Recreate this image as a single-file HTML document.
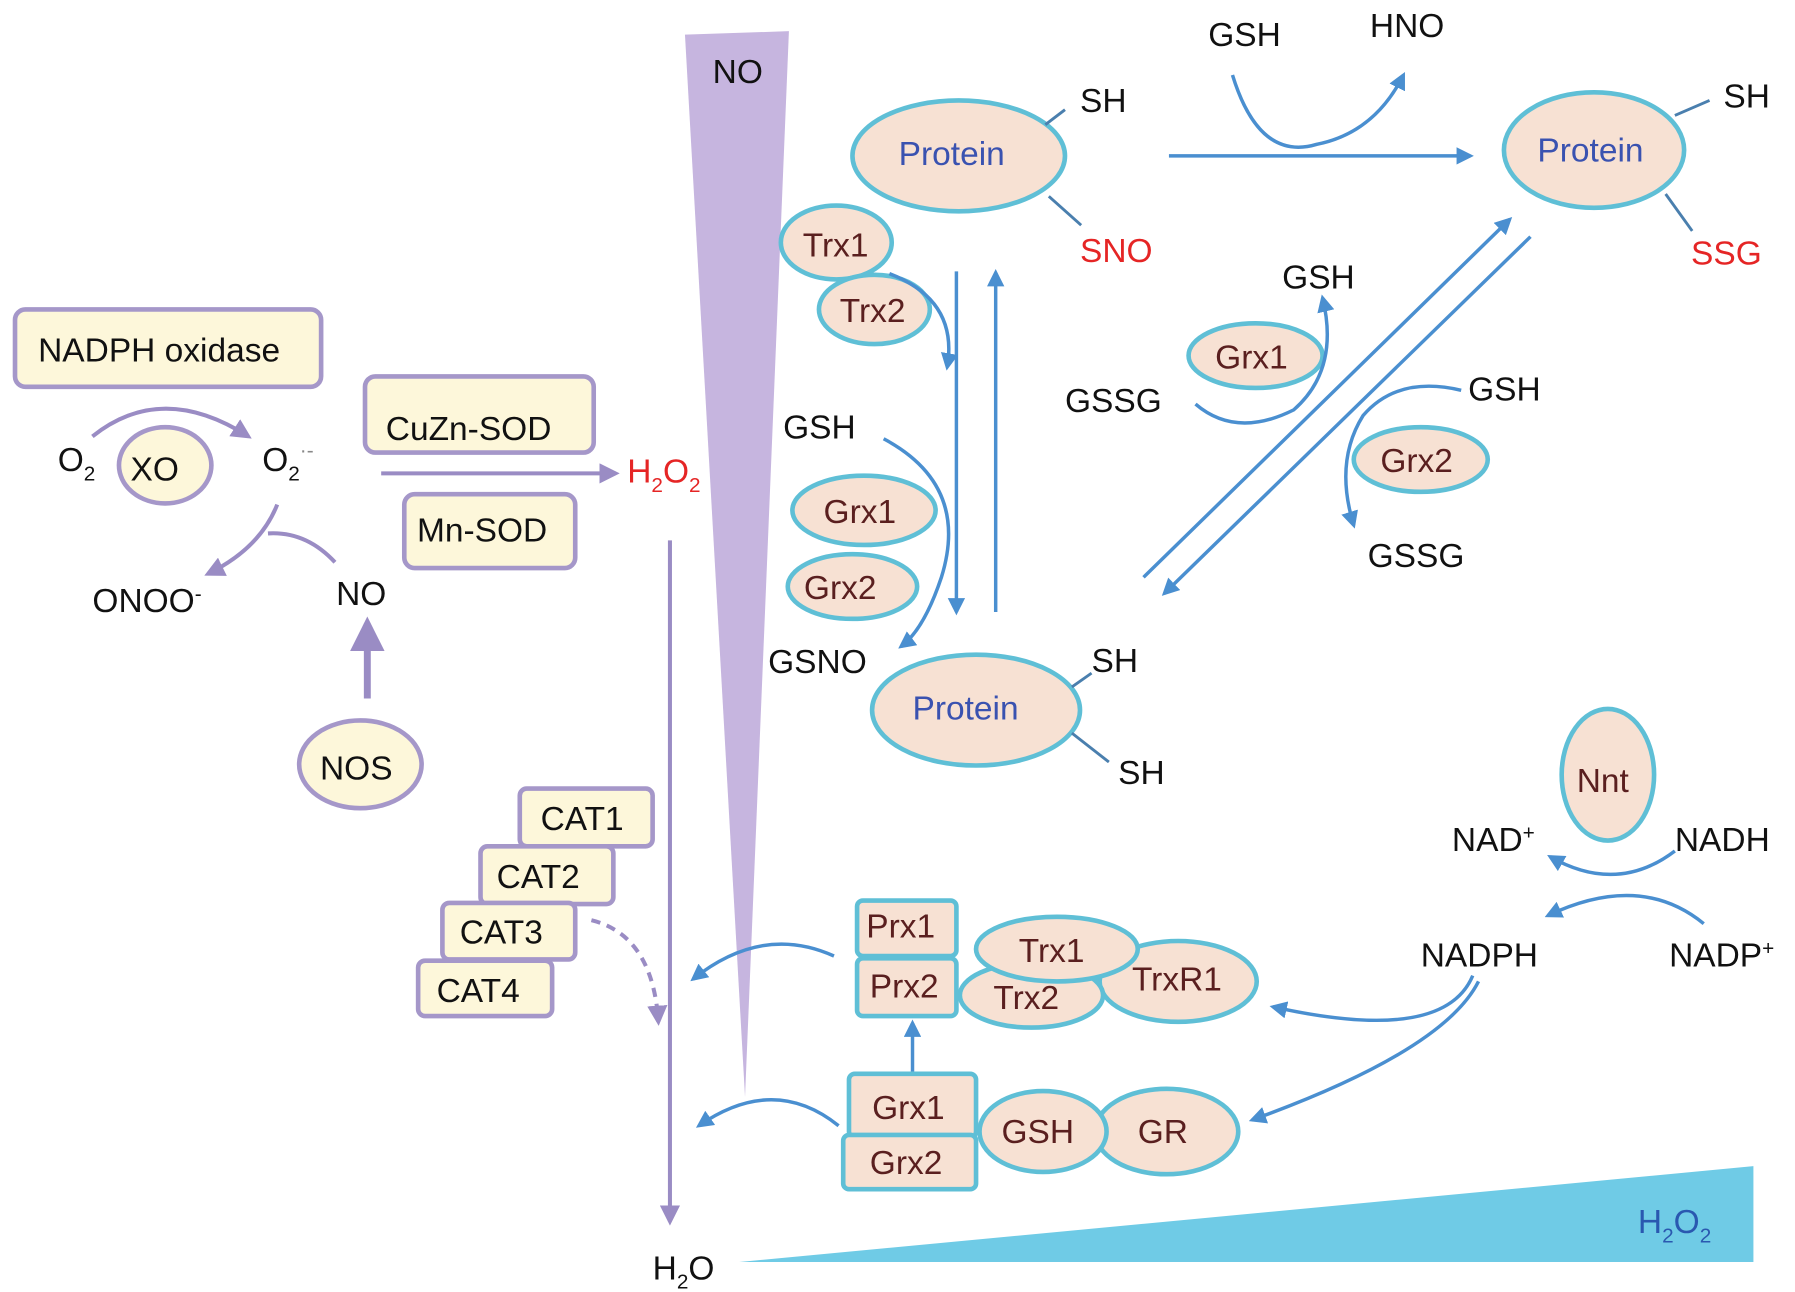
<!DOCTYPE html>
<html><head><meta charset="utf-8"><style>
html,body{margin:0;padding:0;background:#fff;}
svg{display:block;}
text{font-family:"Liberation Sans",sans-serif;}
</style></head><body>
<svg width="1795" height="1292" viewBox="0 0 1554 1119" preserveAspectRatio="none" xmlns="http://www.w3.org/2000/svg">
<defs>
<marker id="ap" viewBox="0 0 10 10" refX="8" refY="5" markerWidth="5" markerHeight="5" orient="auto"><path d="M0,0 L10,5 L0,10 z" fill="#9a8cc4"/></marker>
<marker id="ab" viewBox="0 0 10 10" refX="8" refY="5" markerWidth="5" markerHeight="5" orient="auto"><path d="M0,0 L10,5 L0,10 z" fill="#4a8fd0"/></marker>
</defs>
<g font-size="29" fill="#111">
<polygon points="593,30 683,27 645,950" fill="#c6b5df"/>
<text x="617" y="72">NO</text>
<polygon points="640,1093 1518,1010 1518,1093" fill="#6fcbe6"/>
<text x="1418" y="1068" fill="#2a58b0">H<tspan font-size="18" dy="8">2</tspan><tspan dy="-8">O</tspan><tspan font-size="18" dy="8">2</tspan></text>

<g stroke="#a597c9" stroke-width="4" fill="#fdf7da">
<rect x="13" y="268" width="265" height="67" rx="9"/>
<rect x="316" y="326" width="198" height="66" rx="9"/>
<rect x="350" y="428" width="148" height="64" rx="9"/>
<ellipse cx="143" cy="403" rx="40" ry="33"/>
<ellipse cx="312" cy="662" rx="53" ry="38"/>
<rect x="450" y="683" width="115" height="50" rx="6"/>
<rect x="416" y="733" width="115" height="50" rx="6"/>
<rect x="383" y="782" width="115" height="49" rx="6"/>
<rect x="362" y="832" width="116" height="48" rx="6"/>
</g>
<text x="33" y="313">NADPH oxidase</text>
<text x="334" y="381">CuZn-SOD</text>
<text x="361" y="469">Mn-SOD</text>
<text x="113" y="416">XO</text>
<text x="277" y="675">NOS</text>
<text x="468" y="719">CAT1</text>
<text x="430" y="769">CAT2</text>
<text x="398" y="817">CAT3</text>
<text x="378" y="868">CAT4</text>
<text x="50" y="408">O<tspan font-size="18" dy="8">2</tspan></text>
<text x="227" y="408">O<tspan font-size="18" dy="8">2</tspan><tspan font-size="18" dy="-20" fill="#888">·-</tspan></text>
<text x="543" y="418" fill="#e52525">H<tspan font-size="18" dy="8">2</tspan><tspan dy="-8">O</tspan><tspan font-size="18" dy="8">2</tspan></text>
<text x="80" y="530">ONOO<tspan font-size="18" dy="-10">-</tspan></text>
<text x="291" y="524">NO</text>
<text x="565" y="1108">H<tspan font-size="18" dy="8">2</tspan><tspan dy="-8">O</tspan></text>
<g stroke="#9a8cc4" stroke-width="3.5" fill="none">
<path d="M80,378 Q140,330 215,378" marker-end="url(#ap)"/>
<line x1="330" y1="410" x2="533" y2="410" marker-end="url(#ap)"/>
<path d="M240,437 Q225,475 180,497" marker-end="url(#ap)"/>
<path d="M290,487 Q265,460 232,462"/>
<line x1="318" y1="605" x2="318" y2="540" stroke-width="6" marker-end="url(#ap)"/>
<line x1="580" y1="468" x2="580" y2="1058" marker-end="url(#ap)"/>
<path d="M512,797 Q565,810 570,885" stroke-dasharray="8,6" marker-end="url(#ap)"/>
</g>

<g stroke="#5fbfd6" stroke-width="4" fill="#f7e1d3">
<ellipse cx="830" cy="135" rx="92" ry="48"/>
<ellipse cx="1380" cy="130" rx="78" ry="50"/>
<ellipse cx="845" cy="615" rx="90" ry="48"/>
<ellipse cx="724" cy="210" rx="48" ry="32"/>
<ellipse cx="757" cy="268" rx="48" ry="30"/>
<ellipse cx="748" cy="442" rx="62" ry="30"/>
<ellipse cx="738" cy="508" rx="56" ry="28"/>
<ellipse cx="1087" cy="308" rx="58" ry="28"/>
<ellipse cx="1230" cy="398" rx="58" ry="28"/>
<ellipse cx="1392" cy="671" rx="40" ry="57"/>
<ellipse cx="1020" cy="850" rx="68" ry="35"/>
<ellipse cx="893" cy="862" rx="62" ry="28"/>
<ellipse cx="915" cy="822" rx="70" ry="28"/>
<rect x="742" y="780" width="86" height="48" rx="5"/>
<rect x="742" y="830" width="86" height="50" rx="5"/>
<ellipse cx="1010" cy="980" rx="62" ry="37"/>
<ellipse cx="903" cy="980" rx="55" ry="35"/>
<rect x="735" y="930" width="110" height="55" rx="5"/>
<rect x="730" y="983" width="115" height="47" rx="5"/>
</g>
<g fill="#5a1f1f">
<text x="695" y="222">Trx1</text>
<text x="727" y="279">Trx2</text>
<text x="713" y="453">Grx1</text>
<text x="696" y="519">Grx2</text>
<text x="1052" y="319">Grx1</text>
<text x="1195" y="409">Grx2</text>
<text x="1365" y="686">Nnt</text>
<text x="750" y="812">Prx1</text>
<text x="753" y="864">Prx2</text>
<text x="882" y="833">Trx1</text>
<text x="860" y="874">Trx2</text>
<text x="980" y="858">TrxR1</text>
<text x="755" y="969">Grx1</text>
<text x="753" y="1017">Grx2</text>
<text x="867" y="990">GSH</text>
<text x="985" y="990">GR</text>
</g>
<g fill="#3a52b0">
<text x="778" y="143">Protein</text>
<text x="1331" y="140">Protein</text>
<text x="790" y="623">Protein</text>
</g>
<g stroke="#4a7fae" stroke-width="2.5">
<line x1="905" y1="108" x2="922" y2="95"/>
<line x1="908" y1="170" x2="936" y2="195"/>
<line x1="1450" y1="100" x2="1480" y2="87"/>
<line x1="1442" y1="168" x2="1465" y2="200"/>
<line x1="928" y1="595" x2="945" y2="583"/>
<line x1="928" y1="635" x2="960" y2="660"/>
</g>
<text x="935" y="97">SH</text>
<text x="935" y="227" fill="#e52525">SNO</text>
<text x="1492" y="93">SH</text>
<text x="1464" y="229" fill="#e52525">SSG</text>
<text x="945" y="582">SH</text>
<text x="968" y="679">SH</text>
<text x="1046" y="40">GSH</text>
<text x="1186" y="32">HNO</text>
<text x="1110" y="250">GSH</text>
<text x="922" y="357">GSSG</text>
<text x="1271" y="347">GSH</text>
<text x="1184" y="491">GSSG</text>
<text x="678" y="380">GSH</text>
<text x="665" y="583">GSNO</text>
<text x="1257" y="737">NAD<tspan font-size="18" dy="-10">+</tspan></text>
<text x="1450" y="737">NADH</text>
<text x="1230" y="837">NADPH</text>
<text x="1445" y="837">NADP<tspan font-size="18" dy="-10">+</tspan></text>
<g stroke="#4a8fd0" stroke-width="3" fill="none">
<path d="M1067,65 Q1090,140 1140,125 Q1190,115 1215,65" marker-end="url(#ab)"/>
<line x1="1012" y1="135" x2="1273" y2="135" marker-end="url(#ab)"/>
<line x1="990" y1="500" x2="1307" y2="190" marker-end="url(#ab)"/>
<line x1="1325" y1="205" x2="1008" y2="514" marker-end="url(#ab)"/>
<path d="M1035,350 Q1070,380 1120,355 Q1160,320 1145,258" marker-end="url(#ab)"/>
<path d="M1265,338 Q1210,325 1180,360 Q1155,400 1172,455" marker-end="url(#ab)"/>
<path d="M770,237 Q830,260 820,318" marker-end="url(#ab)"/>
<line x1="828" y1="235" x2="828" y2="530" marker-end="url(#ab)"/>
<line x1="862" y1="530" x2="862" y2="236" marker-end="url(#ab)"/>
<path d="M765,380 Q840,420 815,500 Q800,545 780,560" marker-end="url(#ab)"/>
<path d="M1450,737 Q1400,775 1342,742" marker-end="url(#ab)"/>
<path d="M1475,800 Q1420,755 1340,793" marker-end="url(#ab)"/>
<path d="M1275,845 Q1250,905 1102,872" marker-end="url(#ab)"/>
<path d="M1280,850 Q1250,910 1084,970" marker-end="url(#ab)"/>
<path d="M722,828 Q660,800 600,848" marker-end="url(#ab)"/>
<path d="M726,975 Q670,930 605,975" marker-end="url(#ab)"/>
<line x1="790" y1="928" x2="790" y2="886" marker-end="url(#ab)"/>
</g>
</g>
</svg>
</body></html>
